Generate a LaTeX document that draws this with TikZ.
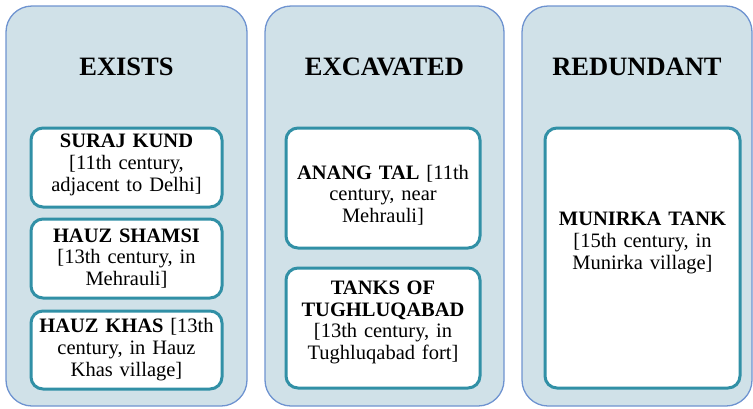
\documentclass[tikz,border=0pt]{standalone}
\usepackage{fontspec}
\setmainfont{Liberation Serif}
\definecolor{panelfill}{HTML}{D0E1E8}
\definecolor{panelline}{HTML}{6E93D0}
\definecolor{boxline}{HTML}{3190A6}
\begin{document}
\begin{tikzpicture}[x=1pt,y=-1pt,
  panel/.style={draw=panelline,line width=1.3pt,fill=panelfill,rounded corners=26pt},
  itembox/.style={draw=boxline,line width=3pt,fill=white,rounded corners=12pt},
  ttl/.style={font=\fontsize{26.5}{29}\selectfont\bfseries,anchor=center},
  itemtext/.style={font=\fontsize{20.5}{21.7}\selectfont,align=center,anchor=center,text width=190pt}]
\useasboundingbox (0,0) rectangle (753,408);
% panels
\draw[panel] (6,6) rectangle (247,406);
\draw[panel] (265,6) rectangle (504,406);
\draw[panel] (522,6) rectangle (752,406);
% titles
\node[ttl] (t1) at (126.5,67) {EXISTS};
\node[ttl] (t2) at (384.5,67) {EXCAVATED};
\node[ttl] (t3) at (637,67) {REDUNDANT};
% item boxes
\draw[itembox] (31,128) rectangle (222,207);
\draw[itembox] (31,219) rectangle (222,298);
\draw[itembox] (31,311) rectangle (222,389);
\draw[itembox] (286,128) rectangle (480,248);
\draw[itembox] (286,268) rectangle (480,388);
\draw[itembox] (545,128) rectangle (740,388);
% texts
\node[itemtext] (a) at (126.5,165) {\textbf{SURAJ KUND}\\ {[}11th century,\\ adjacent to Delhi]};
\node[itemtext] (b) at (126.5,258.5) {\textbf{HAUZ SHAMSI}\\ {[}13th century, in\\ Mehrauli]};
\node[itemtext] (c) at (126.5,349.5) {\textbf{HAUZ KHAS} [13th\\ century, in Hauz\\ Khas village]};
\node[itemtext] (d) at (383,195) {\textbf{ANANG TAL} [11th\\ century, near\\ Mehrauli]};
\node[itemtext] (e) at (383,322.5) {\textbf{TANKS OF}\\ \textbf{TUGHLUQABAD}\\ {[}13th century, in\\ Tughluqabad fort]};
\node[itemtext] (f) at (642.5,243) {\textbf{MUNIRKA TANK}\\ {[}15th century, in\\ Munirka village]};
\end{tikzpicture}
\end{document}
